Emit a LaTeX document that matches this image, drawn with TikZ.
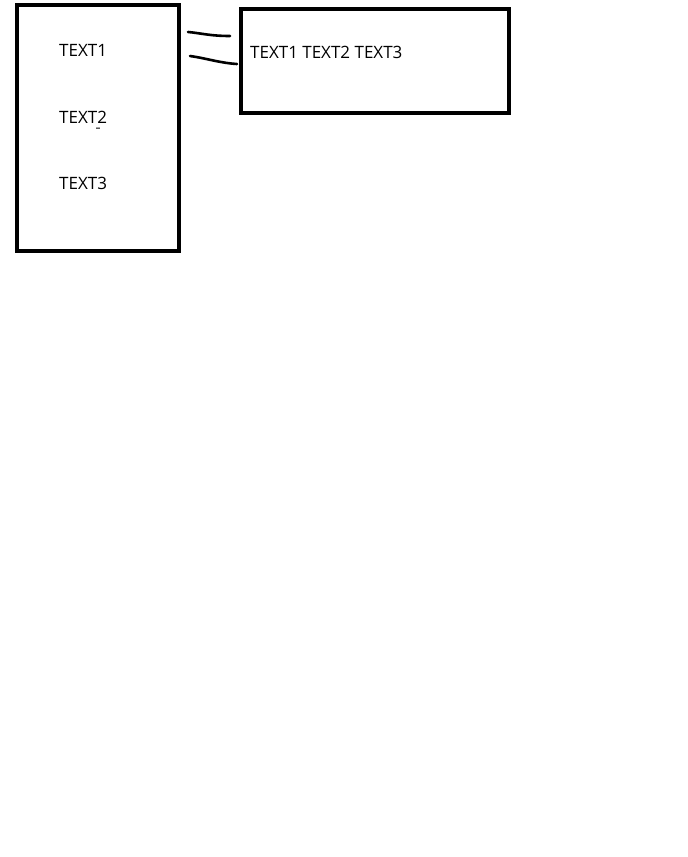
\documentclass[tikz,border=0pt]{standalone}
\usepackage{fontspec}
\setmainfont{Open Sans}
\begin{document}
\begin{tikzpicture}[x=1pt,y=-1pt,
  box/.style={draw,line width=4pt,inner sep=0pt},
  txt/.style={anchor=west,font=\fontsize{17}{20}\selectfont,inner sep=0pt},
  stroke/.style={line width=2.6pt,line cap=round}]
\useasboundingbox (0,0) rectangle (688,857);
\draw[line width=4pt] (17,5) rectangle (179,251);
\node[box,minimum width=0pt] (left) at (98,128) {};
\draw[line width=4pt] (241,9) rectangle (509,113);
\node (right) at (375,61) {};
\node[txt] (t1) at (59,50) {TEXT1};
\node[txt] (t2) at (59,117) {TEXT2};
\node[txt] (t3) at (59,183) {TEXT3};
\node[txt] (r) at (250,52) {TEXT1 TEXT2 TEXT3};
\coordinate (a1) at (188,32);
\coordinate (a2) at (230,36);
\coordinate (b1) at (190,56);
\coordinate (b2) at (237,64);
\draw[stroke] (a1) .. controls (200,33) and (210,36) .. (a2);
\draw[stroke] (b1) .. controls (205,58) and (220,63) .. (b2);
\end{tikzpicture}
\end{document}
